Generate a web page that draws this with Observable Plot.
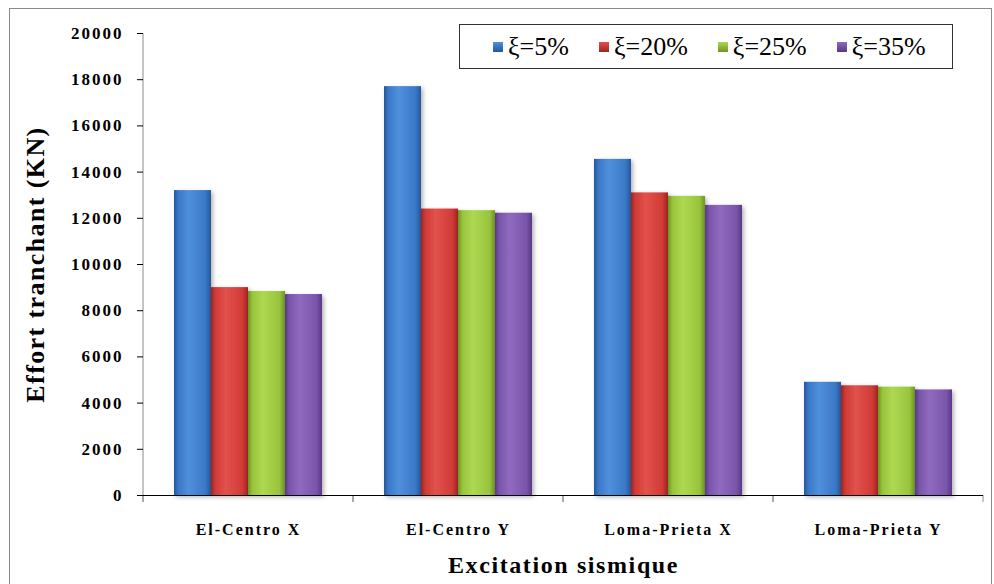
<!DOCTYPE html>
<html><head><meta charset="utf-8">
<script src="https://cdn.jsdelivr.net/npm/d3@7"></script>
<script src="https://cdn.jsdelivr.net/npm/@observablehq/plot@0.6"></script>
<style>
body{margin:0;background:#fff;}
#wrap{position:relative;width:994px;height:584px;overflow:hidden;background:#fff;}
#frame{position:absolute;left:9px;top:8px;width:981px;height:600px;border:1.5px solid #8a8a8a;}
#chart{position:absolute;left:0;top:0;}
#legend{position:absolute;left:459px;top:24px;width:494px;height:45px;border:1.5px solid #333;background:#fff;
  font-family:"Liberation Serif","Times New Roman",serif;font-size:26px;display:flex;align-items:center;padding-left:33px;box-sizing:border-box;gap:30px;}
#legend .item{display:flex;align-items:center;}
#legend .sw{width:10px;height:10px;margin-right:5px;}
svg [aria-label="y-axis tick"], svg [aria-label="rule"]{stroke:#8c8c8c;}
svg [aria-label="y-axis tick label"] text{letter-spacing:2px;}
svg [aria-label="fx-axis tick label"] text{letter-spacing:2px;}
svg [aria-label="y-axis label"] text{font-size:26px;font-weight:bold;letter-spacing:1.4px;}
svg [aria-label="fx-axis label"] text{font-size:24px;font-weight:bold;letter-spacing:1.6px;}
svg [aria-label="bar"] rect{filter:url(#shadow);}
</style>
</head><body>
<div id="wrap"><div id="frame"></div><div id="chart"></div><div id="legend"></div></div>
<script>
const categories = ["El-Centro X", "El-Centro Y", "Loma-Prieta X", "Loma-Prieta Y"];
const series = ["ξ=5%", "ξ=20%", "ξ=25%", "ξ=35%"];
const xi5  = [13200, 17700, 14550, 4900];
const xi20 = [9000, 12400, 13100, 4750];
const xi25 = [8830, 12330, 12950, 4690];
const xi35 = [8700, 12220, 12560, 4570];
const yTicks = [0, 2000, 4000, 6000, 8000, 10000, 12000, 14000, 16000, 18000, 20000];

const palette = [
  {dark:"#24579a", base:"#3a78c7", light:"#4f90dc"},
  {dark:"#9e2522", base:"#d03a36", light:"#e2524c"},
  {dark:"#6f9424", base:"#98c43c", light:"#aed851"},
  {dark:"#573885", base:"#7a55aa", light:"#8f6bc0"}
];

const seriesValues = [xi5, xi20, xi25, xi35];
const data = [];
categories.forEach((c, ci) => series.forEach((s, si) => data.push({category: c, series: s, value: seriesValues[si][ci]})));

function addDefs(g) {
  const defs = g.append("defs");
  palette.forEach((p, i) => {
    const lg = defs.append("linearGradient").attr("id", "grad" + i).attr("x1", "0").attr("x2", "1").attr("y1", "0").attr("y2", "0");
    [[0, p.dark], [0.12, p.base], [0.4, p.light], [0.85, p.base], [1, p.dark]].forEach(([o, c]) =>
      lg.append("stop").attr("offset", o).attr("stop-color", c));
  });
  const f = defs.append("filter").attr("id", "shadow").attr("x", "-20%").attr("y", "-5%").attr("width", "150%").attr("height", "115%");
  f.append("feDropShadow").attr("dx", 2).attr("dy", 2).attr("stdDeviation", 2).attr("flood-color", "#000").attr("flood-opacity", 0.3);
}

let decorCalls = 0;
function decor(index, scales, values, dims) {
  const first = decorCalls === 0;
  decorCalls++;
  const g = d3.create("svg:g");
  const y = scales.y;
  const [d0, d1] = y.domain();
  const left = dims.marginLeft;
  const plotW = dims.width - dims.marginLeft - dims.marginRight;
  const fx = scales.fx;
  const bw = fx && fx.bandwidth ? fx.bandwidth() : plotW / categories.length;
  const tick = (x) => g.append("line").attr("x1", x).attr("x2", x).attr("y1", y(d0)).attr("y2", y(d0) + 7).attr("stroke", "#8c8c8c");
  if (first) {
    addDefs(g);
    g.append("line").attr("x1", left).attr("x2", left).attr("y1", y(d1)).attr("y2", y(d0) + 7).attr("stroke", "#8c8c8c");
  }
  tick(left); tick(left + bw);
  return g.node();
}

const plot = Plot.plot({
  width: 994, height: 584,
  marginLeft: 142, marginRight: 10, marginTop: 33, marginBottom: 89,
  style: {fontFamily: '"Liberation Serif", "Times New Roman", serif', background: "transparent", color: "#000"},
  fx: {domain: categories, padding: 0, axis: null},
  x: {domain: series, paddingInner: 0, paddingOuter: 0.78, axis: null},
  y: {domain: [0, 20000], axis: null},
  color: {domain: series, range: series.map((d, i) => `url(#grad${i})`)},
  marks: [
    decor,
    Plot.barY(data, {fx: "category", x: "series", y: "value", fill: "series"}),
    Plot.ruleY([0]),
    Plot.axisY({ticks: yTicks, tickSize: 6, tickPadding: 14, fontSize: 17, fontWeight: "bold",
      tickFormat: d => String(d), label: "Effort tranchant (KN)", labelAnchor: "center", labelOffset: 118, labelArrow: "none"}),
    Plot.axisFx({anchor: "bottom", tickSize: 0, tickPadding: 28, fontSize: 16, fontWeight: "bold",
      label: "Excitation sismique", labelAnchor: "center", labelOffset: 77, labelArrow: "none"})
  ]
});
document.getElementById("chart").appendChild(plot);

const legend = d3.select("#legend");
series.forEach((s, i) => {
  const it = legend.append("div").attr("class", "item");
  it.append("div").attr("class", "sw").style("background", `linear-gradient(180deg, ${palette[i].light}, ${palette[i].dark})`);
  it.append("span").text(s);
});
</script>
</body></html>
